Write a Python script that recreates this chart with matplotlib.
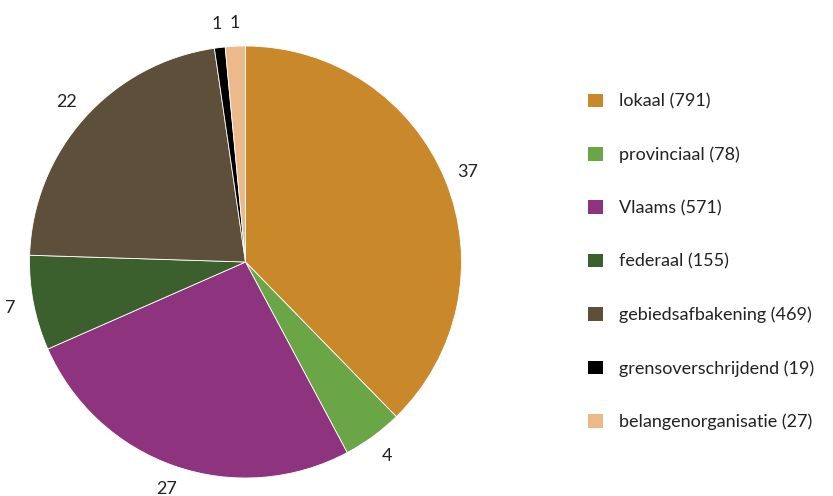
import matplotlib.pyplot as plt

labels = ["lokaal", "provinciaal", "Vlaams", "federaal",
          "gebiedsafbakening", "grensoverschrijdend", "belangenorganisatie"]
counts = [791, 78, 571, 155, 469, 19, 27]
# wedge shares (%) as drawn in the source chart, and the printed labels
shares = [37.7, 4.5, 26.2, 7.1, 22.2, 0.8, 1.5]
pct_labels = ["37", "4", "27", "7", "22", "1", "1"]
colors = ["#C9892A", "#6AA645", "#8E337D", "#3C5F2E",
          "#5E4F3B", "#000000", "#EBB98A"]

plt.rcParams['font.family'] = ['Lato', 'DejaVu Sans']

fig = plt.figure(figsize=(8.33, 4.96), dpi=100)
ax = fig.add_axes([29.5 / 833, 18 / 496, 432 / 833, 432 / 496])

wedges, texts = ax.pie(
    shares, colors=colors, startangle=90, counterclock=False,
    labels=pct_labels, labeldistance=1.11,
    wedgeprops=dict(edgecolor="white", linewidth=0.6),
    textprops=dict(fontsize=13, color="#222222"),
)
for t in texts:
    t.set_horizontalalignment("center")
    t.set_verticalalignment("center")
ax.set_xlim(-1, 1)
ax.set_ylim(-1, 1)
ax.set_aspect("equal")

leg_labels = [f"{l} ({c})" for l, c in zip(labels, counts)]
leg = fig.legend(wedges, leg_labels, loc="center left",
                 bbox_to_anchor=(588 / 833, 1 - 262 / 496),
                 frameon=False, fontsize=13, handlelength=0.85, handleheight=0.8,
                 handletextpad=0.85, labelspacing=2.05, labelcolor="#222222",
                 borderpad=0, borderaxespad=0)
for h in leg.legend_handles:
    h.set_edgecolor("none")

fig.savefig("out.png", dpi=100)
